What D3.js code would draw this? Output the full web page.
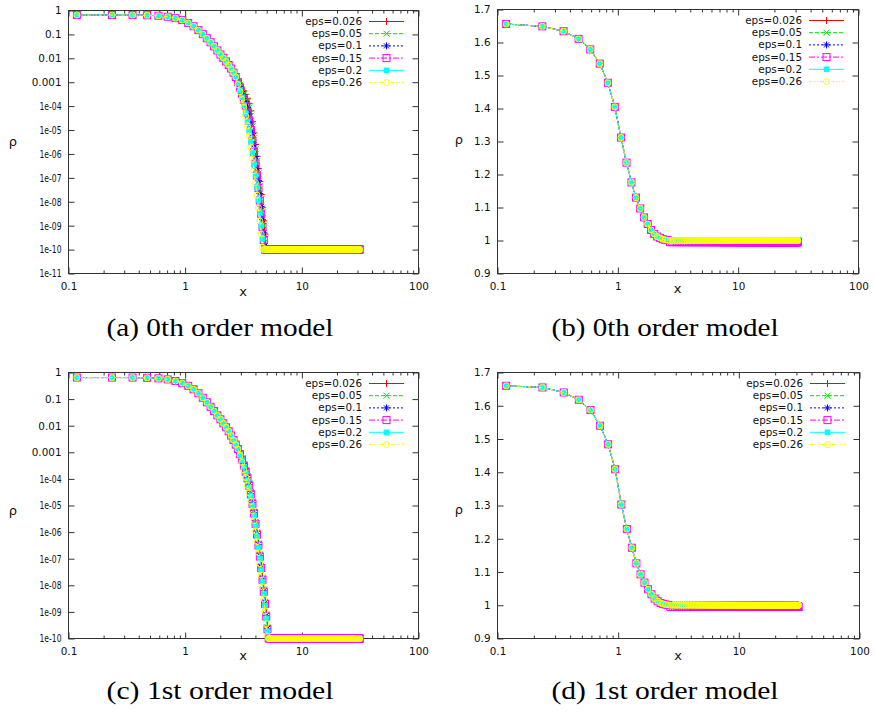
<!DOCTYPE html>
<html><head><meta charset="utf-8">
<script src="https://cdn.jsdelivr.net/npm/d3@7"></script>
<style>
body{margin:0;background:#fff}
svg text{font-family:"DejaVu Sans","Liberation Sans",Arial,sans-serif;fill:#111}
svg text.caption{font-family:"Liberation Serif","Times New Roman",serif;fill:#000}
</style></head><body>
<svg id="fig" width="874" height="713"></svg>
<script>
// grid positions x of the simulation samples (same grid for every run)
const xSamples = [
 0.118,0.236,0.354,0.472,0.590,0.708,0.826,0.944,1.062,1.180,
 1.298,1.416,1.534,1.652,1.770,1.888,2.006,2.124,2.242,2.360,
 2.478,2.596,2.714,2.832,2.950,3.068,3.186,3.304,3.422,3.540,
 3.658,3.776,3.894,4.012,4.130,4.248,4.366,4.484,4.602,4.720,
 4.838,4.956,5.074,5.192,5.310,5.428,5.546,5.664,5.782,5.900,
 6.018,6.136,6.254,6.372,6.490,6.608,6.726,6.844,6.962,7.080,
 7.198,7.316,7.434,7.552,7.670,7.788,7.906,8.024,8.142,8.260,
 8.378,8.496,8.614,8.732,8.850,8.968,9.086,9.204,9.322,9.440,
 9.558,9.676,9.794,9.912,10.030,10.148,10.266,10.384,10.502,10.620,
 10.738,10.856,10.974,11.092,11.210,11.328,11.446,11.564,11.682,11.800,
 11.918,12.036,12.154,12.272,12.390,12.508,12.626,12.744,12.862,12.980,
 13.098,13.216,13.334,13.452,13.570,13.688,13.806,13.924,14.042,14.160,
 14.278,14.396,14.514,14.632,14.750,14.868,14.986,15.104,15.222,15.340,
 15.458,15.576,15.694,15.812,15.930,16.048,16.166,16.284,16.402,16.520,
 16.638,16.756,16.874,16.992,17.110,17.228,17.346,17.464,17.582,17.700,
 17.818,17.936,18.054,18.172,18.290,18.408,18.526,18.644,18.762,18.880,
 18.998,19.116,19.234,19.352,19.470,19.588,19.706,19.824,19.942,20.060,
 20.178,20.296,20.414,20.532,20.650,20.768,20.886,21.004,21.122,21.240,
 21.358,21.476,21.594,21.712,21.830,21.948,22.066,22.184,22.302,22.420,
 22.538,22.656,22.774,22.892,23.010,23.128,23.246,23.364,23.482,23.600,
 23.718,23.836,23.954,24.072,24.190,24.308,24.426,24.544,24.662,24.780,
 24.898,25.016,25.134,25.252,25.370,25.488,25.606,25.724,25.842,25.960,
 26.078,26.196,26.314,26.432,26.550,26.668,26.786,26.904,27.022,27.140,
 27.258,27.376,27.494,27.612,27.730,27.848,27.966,28.084,28.202,28.320,
 28.438,28.556,28.674,28.792,28.910,29.028,29.146,29.264,29.382,29.500,
 29.618,29.736,29.854,29.972,30.090,30.208,30.326,30.444,30.562,30.680,
 30.798,30.916,31.034,31.152,31.270
];

// series labels
const epsLabels = ["eps=0.026","eps=0.05","eps=0.1","eps=0.15","eps=0.2","eps=0.26"];

// (a) 0th order, log10(rho): leading samples where all eps runs coincide
const headA = [-0.19,-0.19,-0.19,-0.20,-0.22,-0.26,-0.32,-0.40,-0.52,-0.66,-0.82,-0.99,
  -1.16,-1.33,-1.50,-1.67,-1.84,-1.98,-2.13,-2.28,-2.43,-2.60,-2.78];
// (a) steep part, one array per eps
const steepA026 = [-2.92,-3.07,-3.24,-3.37,-3.51,-3.67,-3.88,-4.20,-4.65,-5.12,-5.60,-6.10,-6.62,-7.15,-7.70,-8.25,-8.80,-9.35,-9.90];
const steepA05  = [-2.94,-3.11,-3.30,-3.46,-3.63,-3.82,-4.06,-4.40,-4.85,-5.32,-5.80,-6.30,-6.82,-7.35,-7.90,-8.45,-9.00,-9.55];
const steepA1   = [-2.97,-3.17,-3.39,-3.60,-3.81,-4.05,-4.33,-4.70,-5.15,-5.62,-6.10,-6.60,-7.12,-7.65,-8.20,-8.75,-9.30,-9.85];
const steepA15  = [-3.00,-3.23,-3.48,-3.73,-3.99,-4.27,-4.60,-5.00,-5.45,-5.92,-6.40,-6.90,-7.42,-7.95,-8.50,-9.05,-9.60];
const steepA2   = [-3.05,-3.33,-3.63,-3.96,-4.29,-4.65,-5.05,-5.50,-5.95,-6.42,-6.90,-7.40,-7.92,-8.45,-9.00,-9.55];
const steepA26  = [-3.10,-3.40,-3.72,-4.05,-4.42,-4.82,-5.25,-5.72,-6.20,-6.70,-7.20,-7.72,-8.25,-8.80,-9.35,-9.90];
// log10(rho) of the flat outer region, per eps
const tailA = [-10,-10,-10,-10,-10,-10];

// (c) 1st order, log10(rho)
const headC = [-0.19,-0.19,-0.19,-0.20,-0.22,-0.26,-0.32,-0.40,-0.50,-0.63,-0.78,-0.95,
  -1.12,-1.29,-1.45,-1.61,-1.76,-1.91,-2.06,-2.21,-2.37,-2.54];
const steepC026 = [-2.71,-2.88,-3.04,-3.22,-3.42,-3.63,-3.85,-4.12,-4.45,-4.80,-5.17,-5.56,-5.96,-6.37,-6.79,-7.22,-7.66,-8.11,-8.57,-9.04,-9.52];
const steepC05  = [-2.71,-2.88,-3.05,-3.24,-3.45,-3.67,-3.90,-4.17,-4.50,-4.85,-5.22,-5.61,-6.01,-6.42,-6.84,-7.27,-7.71,-8.16,-8.62,-9.09,-9.57];
const steepC1   = [-2.71,-2.88,-3.06,-3.26,-3.48,-3.71,-3.95,-4.22,-4.55,-4.90,-5.27,-5.66,-6.06,-6.47,-6.89,-7.32,-7.76,-8.21,-8.67,-9.14,-9.62];
const steepC15  = [-2.71,-2.88,-3.07,-3.27,-3.50,-3.73,-3.98,-4.25,-4.58,-4.93,-5.30,-5.69,-6.09,-6.50,-6.92,-7.35,-7.79,-8.24,-8.70,-9.17,-9.65];
const steepC2   = [-2.71,-2.88,-3.08,-3.30,-3.54,-3.79,-4.05,-4.32,-4.65,-5.00,-5.37,-5.76,-6.16,-6.57,-6.99,-7.42,-7.86,-8.31,-8.77,-9.24,-9.72];
const steepC26  = [-2.71,-2.88,-3.12,-3.38,-3.66,-3.95,-4.25,-4.52,-4.85,-5.20,-5.57,-5.96,-6.36,-6.77,-7.19,-7.62,-8.06,-8.51,-8.97,-9.44,-9.92];
const tailC = [-10,-10,-10,-10,-10,-10];

// (b) 0th order and (d) 1st order, rho on a linear scale (all eps runs coincide)
const rhoB = [1.656,1.649,1.634,1.611,1.579,1.536,1.478,1.405,1.312,1.236,1.176,1.130,
  1.097,1.070,1.050,1.032,1.020,1.012,1.008,1.004,1.002,1.001];
const tailB = [1.0,1.0,1.0,0.995,1.0,1.0];
const rhoD = [1.660,1.655,1.640,1.618,1.587,1.540,1.484,1.409,1.303,1.229,1.173,1.126,
  1.093,1.068,1.048,1.033,1.020,1.012,1.007,1.004,1.002,1.001];
const tailD = [1.0,1.0,1.0,0.995,1.0,1.0];

// axis ticks
const xMajor = [0.1, 1, 10, 100];
const xMajorLabels = ["0.1","1","10","100"];
const xMinor = [0.2,0.3,0.4,0.5,0.6,0.7,0.8,0.9,2,3,4,5,6,7,8,9,20,30,40,50,60,70,80,90];
const yTicksA = [1,1e-1,1e-2,1e-3,1e-4,1e-5,1e-6,1e-7,1e-8,1e-9,1e-10,1e-11];
const yLabelsA = ["1","0.1","0.01","0.001","1e-04","1e-05","1e-06","1e-07","1e-08","1e-09","1e-10","1e-11"];
const yTicksC = [1,1e-1,1e-2,1e-3,1e-4,1e-5,1e-6,1e-7,1e-8,1e-9,1e-10];
const yLabelsC = ["1","0.1","0.01","0.001","1e-04","1e-05","1e-06","1e-07","1e-08","1e-09","1e-10"];
const yTicksLin = [0.9,1.0,1.1,1.2,1.3,1.4,1.5,1.6,1.7];
const yLabelsLin = ["0.9","1","1.1","1.2","1.3","1.4","1.5","1.6","1.7"];

const captions = ["(a) 0th order model","(b) 0th order model","(c) 1st order model","(d) 1st order model"];

// line/point styles in the classic terminal order
const styles = [
  {color:"#ff0000", dash:null,          pt:"plus"},
  {color:"#00e000", dash:"4,2",         pt:"cross"},
  {color:"#0000ff", dash:"2,2",         pt:"star"},
  {color:"#ff00ff", dash:"6,2,2,2",     pt:"box"},
  {color:"#00ffff", dash:null,          pt:"fbox"},
  {color:"#ffff00", dash:"3,2,1,2,1,2", pt:"circle"}
];

const FONT = 10.4;
const svg = d3.select("#fig");

function drawMarker(g, type, color) {
  switch (type) {
    case "plus":
      g.append("path").attr("d","M-3.5,0H3.5M0,-3.5V3.5").attr("stroke",color).attr("fill","none"); break;
    case "cross":
      g.append("path").attr("d","M-3,-3L3,3M-3,3L3,-3").attr("stroke",color).attr("fill","none"); break;
    case "star":
      g.append("path").attr("d","M-3.5,0H3.5M0,-3.5V3.5M-2.5,-2.5L2.5,2.5M-2.5,2.5L2.5,-2.5").attr("stroke",color).attr("fill","none"); break;
    case "box":
      g.append("rect").attr("x",-3.5).attr("y",-3.5).attr("width",7).attr("height",7).attr("stroke",color).attr("fill","none"); break;
    case "fbox":
      g.append("rect").attr("x",-2.8).attr("y",-2.8).attr("width",5.6).attr("height",5.6).attr("fill",color); break;
    case "circle":
      g.append("circle").attr("r",3).attr("stroke",color).attr("fill","none"); break;
  }
}

function drawPanel(cfg) {
  const {l, r, t, b} = cfg.box;
  const x = d3.scaleLog().domain([0.1, 100]).range([l, r]);
  const y = (cfg.yLog ? d3.scaleLog() : d3.scaleLinear()).domain(cfg.yDomain).range([b, t]);
  const g = svg.append("g");

  // frame
  g.append("rect").attr("x", l + 0.5).attr("y", t + 0.5).attr("width", r - l).attr("height", b - t)
    .attr("fill","none").attr("stroke","#333").attr("stroke-width",1);

  const tickStyle = sel => {
    sel.select(".domain").remove();
    sel.selectAll(".tick line").attr("stroke","#333");
    sel.selectAll(".tick text").attr("font-size", FONT + "px").attr("fill","#111")
      .attr("font-family","DejaVu Sans, Liberation Sans, sans-serif");
  };
  // x axis, ticks pointing inward on bottom and top
  g.append("g").attr("transform",`translate(0.5,${b + 0.5})`)
    .call(d3.axisBottom(x).tickValues(xMajor).tickFormat((d,i)=>xMajorLabels[i]).tickSizeInner(-6).tickSizeOuter(0).tickPadding(9))
    .call(tickStyle);
  g.append("g").attr("transform",`translate(0.5,${b + 0.5})`)
    .call(d3.axisBottom(x).tickValues(xMinor).tickFormat("").tickSizeInner(-3).tickSizeOuter(0))
    .call(tickStyle);
  g.append("g").attr("transform",`translate(0.5,${t + 0.5})`)
    .call(d3.axisTop(x).tickValues(xMajor).tickFormat("").tickSizeInner(-6).tickSizeOuter(0))
    .call(tickStyle);
  g.append("g").attr("transform",`translate(0.5,${t + 0.5})`)
    .call(d3.axisTop(x).tickValues(xMinor).tickFormat("").tickSizeInner(-3).tickSizeOuter(0))
    .call(tickStyle);
  // y axis, left with labels and mirrored on the right
  const yAx = g.append("g").attr("transform",`translate(${l + 0.5},0.5)`)
    .call(d3.axisLeft(y).tickValues(cfg.yTicks).tickFormat((d,i)=>cfg.yLabels[i]).tickSizeInner(-6).tickSizeOuter(0).tickPadding(7))
    .call(tickStyle);
  // exponent labels are set in a narrower face
  yAx.selectAll(".tick text").filter(function(){ return this.textContent.startsWith("1e"); })
    .attr("textLength", 22).attr("lengthAdjust","spacingAndGlyphs");
  g.append("g").attr("transform",`translate(${r + 0.5},0.5)`)
    .call(d3.axisRight(y).tickValues(cfg.yTicks).tickFormat("").tickSizeInner(-6).tickSizeOuter(0))
    .call(tickStyle);

  // axis titles
  g.append("text").attr("x", cfg.rhoPos[0]).attr("y", cfg.rhoPos[1]).attr("text-anchor","middle")
    .attr("dominant-baseline","central").attr("font-size","13px").text("\u03c1");
  g.append("text").attr("x", (l + r) / 2).attr("y", cfg.xLabelY).attr("text-anchor","middle")
    .attr("dominant-baseline","central").attr("font-size","13px").text("x");

  // caption
  g.append("text").attr("class","caption").attr("x", cfg.capX).attr("y", cfg.capY)
    .attr("text-anchor","middle").attr("font-size","25px")
    .attr("textLength", 227).attr("lengthAdjust","spacingAndGlyphs").text(cfg.caption);

  // curves
  const line = d3.line().x(d => x(d[0]) + 0.5).y(d => y(d[1]) + 0.5);
  cfg.series.forEach((vals, i) => {
    const st = styles[i];
    const pts = vals.map((v, k) => [xSamples[k], cfg.toRho(v)]);
    const tailPts = xSamples.slice(vals.length).map(xx => [xx, cfg.toRho(cfg.tail[i])]);
    const all = pts.concat(tailPts);
    g.append("path").datum(all).attr("d", line).attr("fill","none")
      .attr("stroke", st.color).attr("stroke-width",1)
      .attr("stroke-dasharray", st.dash);
    const mg = g.append("g");
    all.forEach(p => {
      const m = mg.append("g").attr("transform",`translate(${x(p[0]) + 0.5},${y(p[1]) + 0.5})`);
      drawMarker(m, st.pt, st.color);
    });
  });

  // legend
  epsLabels.forEach((lab, i) => {
    const st = styles[i];
    const yy = t + 11 + 12.2 * i;
    g.append("text").attr("x", r - 56).attr("y", yy).attr("text-anchor","end")
      .attr("dominant-baseline","central").attr("font-size", FONT + "px").text(lab);
    g.append("line").attr("x1", r - 49).attr("x2", r - 14).attr("y1", yy + 0.5).attr("y2", yy + 0.5)
      .attr("stroke", st.color).attr("stroke-dasharray", st.dash);
    const m = g.append("g").attr("transform",`translate(${r - 31.5},${yy + 0.5})`);
    drawMarker(m, st.pt, st.color);
  });
}

const pow10 = v => Math.pow(10, v);
const same = v => v;

drawPanel({
  box:{l:68,r:418,t:10,b:273}, yLog:true, yDomain:[1e-11,1], yTicks:yTicksA, yLabels:yLabelsA,
  series:[headA.concat(steepA026), headA.concat(steepA05), headA.concat(steepA1),
          headA.concat(steepA15), headA.concat(steepA2), headA.concat(steepA26)],
  tail:tailA, toRho:pow10, rhoPos:[13,141], xLabelY:291, caption:captions[0], capX:220, capY:336
});
drawPanel({
  box:{l:497,r:858,t:9,b:273}, yLog:false, yDomain:[0.9,1.7], yTicks:yTicksLin, yLabels:yLabelsLin,
  series:[rhoB, rhoB, rhoB, rhoB, rhoB, rhoB],
  tail:tailB, toRho:same, rhoPos:[459,139], xLabelY:288, caption:captions[1], capX:665, capY:336
});
drawPanel({
  box:{l:68,r:418,t:372,b:638}, yLog:true, yDomain:[1e-10,1], yTicks:yTicksC, yLabels:yLabelsC,
  series:[headC.concat(steepC026), headC.concat(steepC05), headC.concat(steepC1),
          headC.concat(steepC15), headC.concat(steepC2), headC.concat(steepC26)],
  tail:tailC, toRho:pow10, rhoPos:[13,510], xLabelY:655, caption:captions[2], capX:220, capY:699
});
drawPanel({
  box:{l:497,r:859,t:372,b:638}, yLog:false, yDomain:[0.9,1.7], yTicks:yTicksLin, yLabels:yLabelsLin,
  series:[rhoD, rhoD, rhoD, rhoD, rhoD, rhoD],
  tail:tailD, toRho:same, rhoPos:[459,509], xLabelY:655, caption:captions[3], capX:665, capY:699
});
</script>
</body></html>
